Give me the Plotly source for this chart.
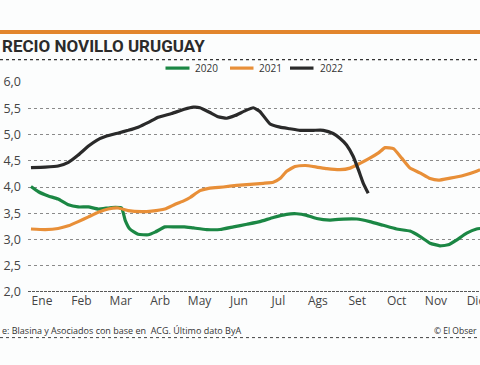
import plotly.graph_objects as go

# ---- data (x in months: 0 = Ene ... 11 = Dic) ----
months = ["Ene", "Feb", "Mar", "Arb", "May", "Jun", "Jul", "Ags", "Set", "Oct", "Nov", "Dic"]
month_pos = list(range(12))
y_ticks = [2.0, 2.5, 3.0, 3.5, 4.0, 4.5, 5.0, 5.5, 6.0]
y_ticktext = ["2,0", "2,5", "3,0", "3,5", "4,0", "4,5", "5,0", "5,5", "6,0"]

x_2020 = [-0.28, -0.09, 0.16, 0.41, 0.67, 0.92, 1.18, 1.43, 1.77, 2.02, 2.11, 2.23, 2.44, 2.70,
          2.87, 3.12, 3.38, 3.61, 3.84, 4.18, 4.52, 4.86, 5.20, 5.53, 5.87, 6.21, 6.46, 6.72,
          6.97, 7.31, 7.65, 7.99, 8.32, 8.66, 9.00, 9.34, 9.59, 9.85, 10.10, 10.31, 10.52,
          10.78, 11.03, 11.12]
y_2020 = [4.01, 3.91, 3.83, 3.77, 3.66, 3.62, 3.62, 3.58, 3.61, 3.60, 3.37, 3.20, 3.10, 3.09,
          3.14, 3.24, 3.24, 3.24, 3.22, 3.19, 3.19, 3.24, 3.29, 3.34, 3.42, 3.48, 3.49, 3.46,
          3.40, 3.37, 3.39, 3.39, 3.34, 3.27, 3.20, 3.16, 3.06, 2.93, 2.88, 2.90, 2.99,
          3.12, 3.20, 3.21]

x_2021 = [-0.28, 0.08, 0.41, 0.67, 0.92, 1.18, 1.43, 1.68, 1.94, 2.19, 2.53, 2.78, 3.12, 3.38,
          3.61, 3.76, 4.01, 4.26, 4.60, 4.94, 5.28, 5.62, 5.87, 6.04, 6.21, 6.42, 6.68, 6.97,
          7.23, 7.56, 7.82, 8.07, 8.32, 8.54, 8.71, 8.92, 9.13, 9.34, 9.59, 9.85, 10.06,
          10.36, 10.69, 11.03, 11.12]
y_2021 = [3.20, 3.19, 3.21, 3.26, 3.34, 3.43, 3.52, 3.58, 3.60, 3.55, 3.53, 3.54, 3.58, 3.67,
          3.74, 3.80, 3.93, 3.98, 4.00, 4.03, 4.05, 4.07, 4.09, 4.16, 4.30, 4.39, 4.41, 4.38,
          4.35, 4.33, 4.36, 4.45, 4.55, 4.65, 4.75, 4.73, 4.55, 4.36, 4.27, 4.16, 4.13,
          4.17, 4.22, 4.30, 4.33]

x_2022 = [-0.28, 0.08, 0.41, 0.67, 0.92, 1.18, 1.39, 1.64, 1.94, 2.19, 2.44, 2.70, 2.95, 3.29,
          3.61, 3.84, 4.01, 4.26, 4.47, 4.69, 4.90, 5.15, 5.36, 5.53, 5.79, 6.04, 6.29, 6.55,
          6.89, 7.14, 7.39, 7.56, 7.73, 7.90, 8.03, 8.15, 8.28]
y_2022 = [4.37, 4.38, 4.40, 4.47, 4.61, 4.78, 4.89, 4.97, 5.03, 5.08, 5.14, 5.23, 5.33, 5.40,
          5.48, 5.52, 5.51, 5.42, 5.34, 5.31, 5.36, 5.45, 5.51, 5.44, 5.20, 5.14, 5.11, 5.08,
          5.08, 5.08, 5.02, 4.93, 4.80, 4.58, 4.33, 4.08, 3.88]

series = [("2020", x_2020, y_2020, "#1b8744"),
          ("2021", x_2021, y_2021, "#e88f38"),
          ("2022", x_2022, y_2022, "#2a2a2a")]

# ---- layout geometry ----
W, H = 480, 365
L, R, T, B = 28, 0, 81.7, 73.3
pw, ph = W - L - R, H - T - B

def px_x(p):
    return (p - L) / pw

def px_y(p):
    return (H - B - p) / ph

fig = go.Figure()
for name, xs, ys, col in series:
    fig.add_trace(go.Scatter(x=xs, y=ys, mode="lines", name=name,
                             line=dict(color=col, width=3.2, shape="spline", smoothing=0.4),
                             showlegend=False, hoverinfo="skip"))

font_fam = "Open Sans, Noto Sans, sans-serif"
title_fam = "Roboto, Lato, sans-serif"
shapes = []
annotations = []

# top orange bar
shapes.append(dict(type="rect", xref="paper", yref="paper", x0=px_x(0), x1=px_x(W),
                   y0=px_y(33.8), y1=px_y(29.8), fillcolor="#e2852d", line=dict(width=0),
                   layer="above"))
# dotted rule under title
shapes.append(dict(type="line", xref="paper", yref="paper", x0=px_x(0), x1=px_x(W),
                   y0=px_y(59.3), y1=px_y(59.3), line=dict(color="#333", width=1.2, dash="dot")))
# dotted rule under footer
shapes.append(dict(type="line", xref="paper", yref="paper", x0=px_x(0), x1=px_x(W),
                   y0=px_y(337.3), y1=px_y(337.3), line=dict(color="#444", width=1, dash="dot")))
# base line at 2.0
shapes.append(dict(type="line", xref="paper", yref="y", x0=0, x1=1, y0=2.0, y1=2.0,
                   line=dict(color="#222", width=1.6, dash="3px,1px"), layer="above"))

# title
annotations.append(dict(text="<b>RECIO NOVILLO URUGUAY</b>", xref="paper", yref="paper",
                        x=px_x(0), y=px_y(46), xanchor="left", yanchor="middle", showarrow=False,
                        font=dict(family=title_fam, size=17, color="#2b2b2b")))

# legend
legend_pos = [(165.5, 189.5, 193), (230, 253.5, 257), (290, 313.5, 317.5)]
for (name, _, _, col), (g0, g1, tx) in zip(series, legend_pos):
    shapes.append(dict(type="line", xref="paper", yref="paper", x0=px_x(g0), x1=px_x(g1),
                       y0=px_y(67.8), y1=px_y(67.8), line=dict(color=col, width=3.2)))
    annotations.append(dict(text=name, xref="paper", yref="paper", x=px_x(tx), y=px_y(68),
                            xanchor="left", yanchor="middle", showarrow=False,
                            font=dict(family=font_fam, size=10, color="#333")))

# footer
annotations.append(dict(text="e: Blasina y Asociados con base en  ACG. Último dato ByA",
                        xref="paper", yref="paper", x=px_x(0), y=px_y(330), xanchor="left",
                        yanchor="middle", showarrow=False,
                        font=dict(family=font_fam, size=9, color="#333")))
annotations.append(dict(text="© El Obser", xref="paper", yref="paper", x=px_x(479), y=px_y(330),
                        xanchor="right", yanchor="middle", showarrow=False,
                        font=dict(family=font_fam, size=8.5, color="#333")))

fig.update_layout(
    width=W, height=H,
    margin=dict(l=L, r=R, t=T, b=B, autoexpand=False),
    paper_bgcolor="#fcfdfd", plot_bgcolor="#fcfdfd",
    shapes=shapes, annotations=annotations,
    showlegend=False,
    xaxis=dict(range=[-0.355, 11.117], tickvals=month_pos, ticktext=months,
               showgrid=False, zeroline=False, showline=False, ticks="", automargin=False,
               ticklabeloverflow="allow",
               tickfont=dict(family=font_fam, size=12, color="#444"), fixedrange=True),
    yaxis=dict(range=[2.0, 6.0], tickvals=y_ticks, ticktext=y_ticktext,
               showgrid=True, gridcolor="#8a8a8a", griddash="dot", gridwidth=1,
               zeroline=False, showline=False, ticks="", automargin=False,
               ticklabelstandoff=6,
               tickfont=dict(family=font_fam, size=12.5, color="#444"), fixedrange=True),
)

fig.write_html("out.html", config={"displayModeBar": False},
               post_script="document.body.style.margin='0';document.body.style.overflow='hidden';")
